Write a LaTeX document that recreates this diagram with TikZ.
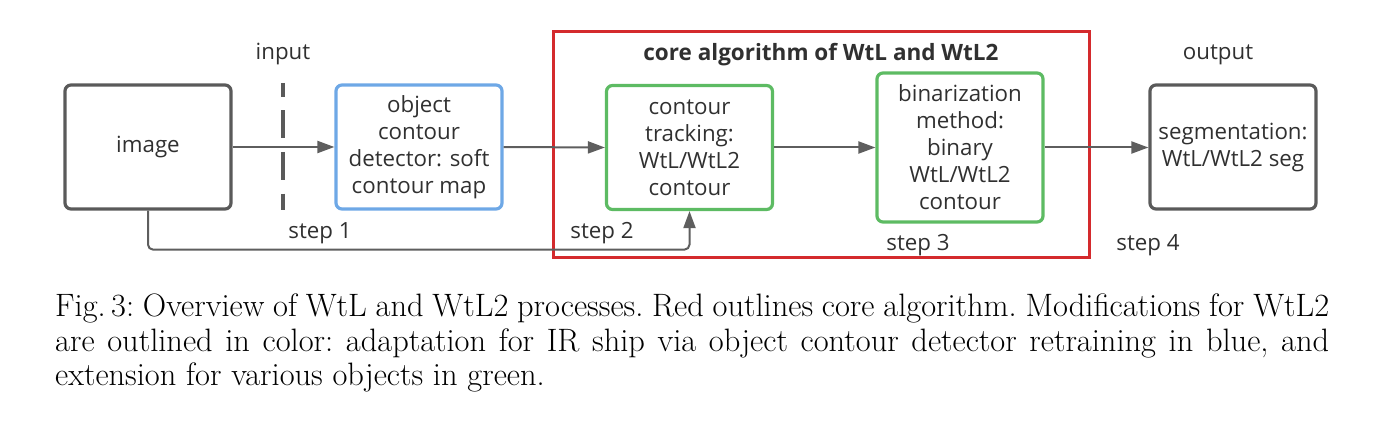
\documentclass[tikz,border=0pt]{standalone}
\usepackage{fontspec}
\newfontfamily\diagfont{Open Sans}
\usetikzlibrary{arrows.meta}
\definecolor{boxgray}{HTML}{5A5A5A}
\definecolor{linegray}{HTML}{5E5E5E}
\definecolor{txtgray}{HTML}{303030}
\definecolor{blueline}{HTML}{6EA8E6}
\definecolor{greenline}{HTML}{5DBB63}
\definecolor{redline}{HTML}{D42A2D}
\tikzset{
  basebox/.style={line width=3.2pt, rounded corners=6pt, minimum width=166pt,
    minimum height=124pt, align=center, inner sep=0pt, text=txtgray,
    font=\diagfont\fontsize{22.3}{27}\selectfont},
  graybox/.style={basebox, draw=boxgray},
  bluebox/.style={basebox, draw=blueline},
  greenbox/.style={basebox, draw=greenline},
  lbl/.style={anchor=base, inner sep=0pt, text=txtgray, font=\diagfont\fontsize{22.3}{27}\selectfont},
  conn/.style={draw=linegray, line width=2pt, -{Triangle[length=17pt,width=12pt]}},
  dashline/.style={draw=boxgray, line width=3.5pt, dash pattern=on 28pt off 13.5pt, dash phase=14pt}
}
\begin{document}
\begin{tikzpicture}[x=1pt,y=-1pt]
\useasboundingbox (0,0) rectangle (1384,425);
% core frame
\node[draw=redline, line width=3pt, minimum width=536pt, minimum height=225pt, inner sep=0pt] (core) at (821,144.5) {};
\node[lbl, font=\diagfont\bfseries\fontsize{22.5}{27}\selectfont] (title) at (821,61) {core algorithm of WtL and WtL2};
% boxes
\node[graybox] (img) at (148,147) {image};
\node[bluebox] (obj) at (419,147) {object\\contour\\detector: soft\\contour map};
\node[greenbox] (trk) at (689.5,147.5) {contour\\tracking:\\WtL/WtL2\\contour};
\node[greenbox, minimum height=149pt] (bin) at (960,147.5) {binarization\\method:\\binary\\WtL/WtL2\\contour};
\node[graybox] (out) at (1233,147) {segmentation:\\WtL/WtL2 seg};
% labels
\node[lbl] (inp) at (283,60) {input};
\node[lbl] (outp) at (1218,60) {output};
\node[lbl] (s1) at (320,238) {step 1};
\node[lbl] (s2) at (602,238) {step 2};
\node[lbl] (s3) at (918,250) {step 3};
\node[lbl] (s4) at (1148,250) {step 4};
% dashed separator
\coordinate (d1) at (283,83);
\coordinate (d2) at (283,210);
\draw[dashline] (d1) -- (d2);
% connectors
\draw[conn] (img.east) -- (obj.west);
\draw[conn] (obj.east) -- (trk.west);
\draw[conn] (trk.east) -- (trk.east -| bin.west);
\draw[conn] (bin.east) -- (bin.east -| out.west);
\draw[conn, rounded corners=5pt] (img.south) -- ++(0,39) -| (trk.south);
% caption
\node[anchor=north west, inner sep=0pt, text width=1274pt, align=justify,
  font=\fontsize{32.4}{34.5}\selectfont] (cap) at (55,294)
  {\frenchspacing\hyphenpenalty=10000 Fig.\,3: Overview of WtL and WtL2 processes. Red outlines core algorithm. Modifications for WtL2\linebreak are outlined in color: adaptation for IR ship via object contour detector retraining in blue, and\linebreak extension for various objects in green.};
\end{tikzpicture}
\end{document}
